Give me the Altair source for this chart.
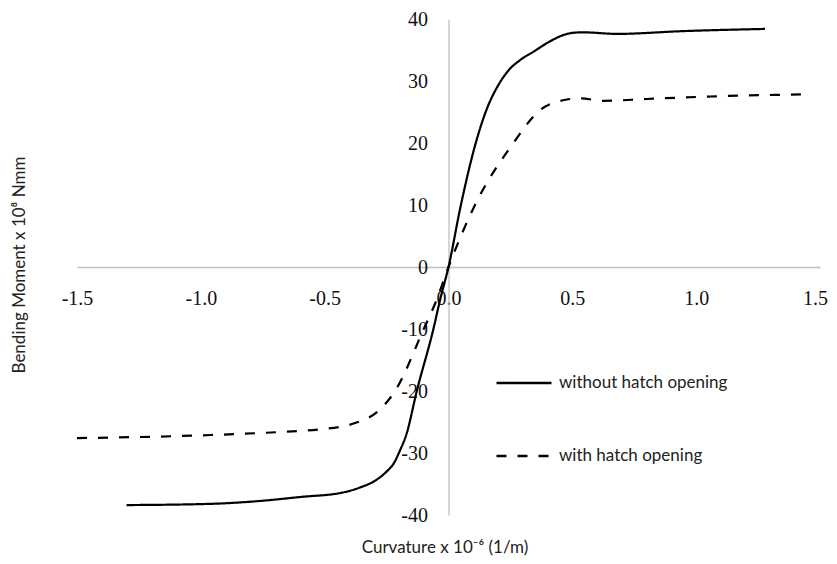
import altair as alt
import pandas as pd

series_names = ["without hatch opening", "with hatch opening"]

solid_x = [-1.30, -0.96, -0.75, -0.60, -0.43, -0.36, -0.29, -0.25, -0.22, -0.196, -0.17, -0.128, -0.061, -0.034, 0.0,
           0.05, 0.11, 0.15, 0.205, 0.24, 0.29, 0.342, 0.41, 0.463, 0.51, 0.544, 0.68, 0.95, 1.278]
solid_y = [-38.4, -38.2, -37.7, -37.1, -36.4, -35.6, -34.3, -33.0, -31.6, -29.6, -27.0, -20.0, -10.0, -5.3, 0.0,
           10.0, 20.0, 25.0, 29.6, 31.6, 33.4, 34.7, 36.4, 37.4, 37.8, 37.85, 37.6, 38.05, 38.4]

dash_x = [-1.50, -0.96, -0.63, -0.52, -0.38, -0.28, -0.216, -0.10, -0.048, 0.0,
          0.107, 0.262, 0.369, 0.463, 0.53, 0.625, 0.80, 1.056, 1.44]
dash_y = [-27.6, -27.1, -26.5, -26.2, -25.2, -23.1, -20.0, -10.0, -5.3, 0.0,
          10.0, 20.0, 25.3, 26.9, 27.2, 26.8, 27.1, 27.5, 27.85]

x_ticks = [-1.5, -1.0, -0.5, 0.0, 0.5, 1.0, 1.5]
y_ticks = [-40, -30, -20, -10, 0, 10, 20, 30, 40]

x_title = "Curvature x 10⁻⁶ (1/m)"
y_title = "Bending Moment x 10⁸ Nmm"

rows = []
for i, (x, y) in enumerate(zip(solid_x, solid_y)):
    rows.append({"x": x, "y": y, "series": series_names[0], "order": i})
for i, (x, y) in enumerate(zip(dash_x, dash_y)):
    rows.append({"x": x, "y": y, "series": series_names[1], "order": i})
df = pd.DataFrame(rows)

W, H = 743, 496
x0_px = W / 2  # pixel of x = 0

xscale = alt.Scale(domain=[-1.5, 1.5], nice=False, zero=False)
yscale = alt.Scale(domain=[-40, 40], nice=False, zero=False)

lines = alt.Chart(df).mark_line(
    interpolate="monotone", color="black", strokeWidth=2.2
).encode(
    x=alt.X("x:Q", scale=xscale, axis=alt.Axis(
        orient="bottom", offset=-H / 2, values=x_ticks,
        labelExpr="datum.value < 0 ? '-' + format(-datum.value, '.1f') : format(datum.value, '.1f')",
        labelOffset={"expr": "datum.value >= 1.5 ? -5 : 0"},
        grid=False, ticks=False, domainColor="#c0c0c0", domainWidth=1.3,
        labelFont="Liberation Serif", labelFontSize=20, labelColor="#111",
        labelPadding=21, title=None, labelFlush=False, labelOverlap=False)),
    y=alt.Y("y:Q", scale=yscale, axis=alt.Axis(
        orient="left", offset=-x0_px, values=y_ticks,
        labelExpr="datum.value < 0 ? '-' + format(-datum.value, 'd') : format(datum.value, 'd')",
        grid=False, ticks=False, domainColor="#c0c0c0", domainWidth=1.3,
        labelFont="Liberation Serif", labelFontSize=20, labelColor="#111",
        labelPadding=21, title=None, labelFlush=False, labelOverlap=False)),
    strokeDash=alt.StrokeDash("series:N", scale=alt.Scale(
        domain=series_names, range=[[1, 0], [10, 11]]),
        legend=alt.Legend(
            orient="none", legendX=418, legendY=335, title=None,
            symbolType="stroke", symbolStrokeColor="black",
            symbolStrokeWidth=2.5, symbolSize=3025,
            labelFont="Lato", labelFontSize=17, labelColor="#222",
            labelLimit=400, labelOffset=6, rowPadding=36)),
    order="order:Q",
)

xt = alt.Chart(pd.DataFrame({"t": [x_title]})).mark_text(
    font="Lato", fontSize=17, color="#222", align="center", baseline="middle"
).encode(text="t:N", x=alt.value(368), y=alt.value(529))

yt = alt.Chart(pd.DataFrame({"t": [y_title]})).mark_text(
    font="Lato", fontSize=17, color="#222", align="center", baseline="middle", angle=270
).encode(text="t:N", x=alt.value(-57), y=alt.value(246))

chart = alt.layer(lines, xt, yt).properties(
    width=W, height=H,
    autosize=alt.AutoSizeParams(type="none"),
    padding={"left": 69, "top": 11, "right": 9, "bottom": 41},
).configure_view(stroke=None)

chart.save("out.html", embed_options={"renderer": "svg", "actions": False})
